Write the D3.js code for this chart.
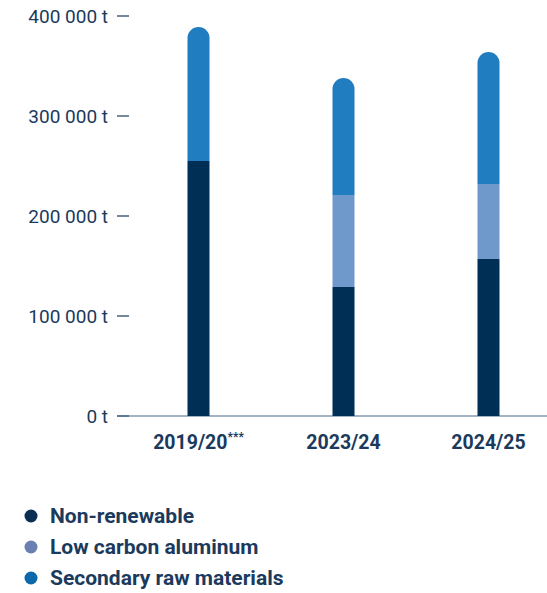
<!DOCTYPE html>
<html><head><meta charset="utf-8">
<script src="https://cdn.jsdelivr.net/npm/d3@7"></script>
<style>body{margin:0;background:#fff}svg{display:block;font-family:Roboto,sans-serif}</style>
</head><body><svg id="c" width="547" height="593"></svg>
<script>
const categories = ["2019/20", "2023/24", "2024/25"];
const categorySup = ["***", "", ""];
const nonRenewable = [255000, 129000, 157000];
const lowCarbon = [0, 92000, 75000];
const secondary = [134000, 117000, 132000];
const yTicks = [0, 100000, 200000, 300000, 400000];
const seriesNames = ["Non-renewable", "Low carbon aluminum", "Secondary raw materials"];
const barColors = ["#002f56", "#6f98cb", "#1f7dc0"];
const legendColors = ["#0b2e52", "#6a80b0", "#0b69aa"];
const textColor = "#1b3a5c";

const svg = d3.select("#c");
const y = d3.scaleLinear().domain([0, 400000]).range([416, 16]);
const x = d3.scaleBand().domain(categories).range([126, 561]).paddingInner(0).paddingOuter(0);
const bw = 22;

// y axis ticks
const fmt = v => d3.format(",")(v).replace(/,/g, " ") + " t";
const ty = svg.append("g");
yTicks.forEach(v => {
  ty.append("line").attr("x1", 117).attr("x2", 129).attr("y1", y(v)).attr("y2", y(v))
    .attr("stroke", textColor).attr("stroke-width", 1.2);
  ty.append("text").attr("x", 108).attr("y", y(v)).attr("dy", "0.35em")
    .attr("text-anchor", "end").attr("font-size", 19).attr("fill", textColor).text(fmt(v));
});
// baseline
svg.append("line").attr("x1", 117).attr("x2", 547).attr("y1", y(0)).attr("y2", y(0))
  .attr("stroke", "#4a6a8a").attr("stroke-width", 1.2);

// stacked bars
const data = categories.map((c, i) => ({cat: c, v: [nonRenewable[i], lowCarbon[i], secondary[i]]}));
const g = svg.append("g");
data.forEach(d => {
  const cx = x(d.cat) + x.bandwidth() / 2;
  let acc = 0;
  d.v.forEach((val, k) => {
    if (val <= 0) return;
    const y0 = y(acc), y1 = y(acc + val);
    acc += val;
    const isTop = k === d.v.length - 1;
    if (isTop) {
      const r = bw / 2;
      const path = `M${cx - r},${y0} L${cx - r},${y1 + r} A${r},${r} 0 0 1 ${cx + r},${y1 + r} L${cx + r},${y0} Z`;
      g.append("path").attr("d", path).attr("fill", barColors[k]);
    } else {
      g.append("rect").attr("x", cx - bw / 2).attr("y", y1).attr("width", bw).attr("height", y0 - y1)
        .attr("fill", barColors[k]);
    }
  });
});

// category labels
categories.forEach((c, i) => {
  const cx = x(c) + x.bandwidth() / 2;
  const t = svg.append("text").attr("x", cx).attr("y", 449).attr("text-anchor", "middle")
    .attr("font-size", 19.5).attr("font-weight", 700).attr("fill", textColor);
  t.append("tspan").text(c);
  if (categorySup[i]) t.append("tspan").attr("font-size", 12).attr("dy", -8).text(categorySup[i]);
});

// legend
seriesNames.forEach((n, i) => {
  const ly = 516 + i * 31;
  svg.append("circle").attr("cx", 31).attr("cy", ly).attr("r", 6.5).attr("fill", legendColors[i]);
  svg.append("text").attr("x", 50).attr("y", ly).attr("dy", "0.35em").attr("font-size", 21)
    .attr("font-weight", 700).attr("fill", textColor).text(n);
});
</script></body></html>
